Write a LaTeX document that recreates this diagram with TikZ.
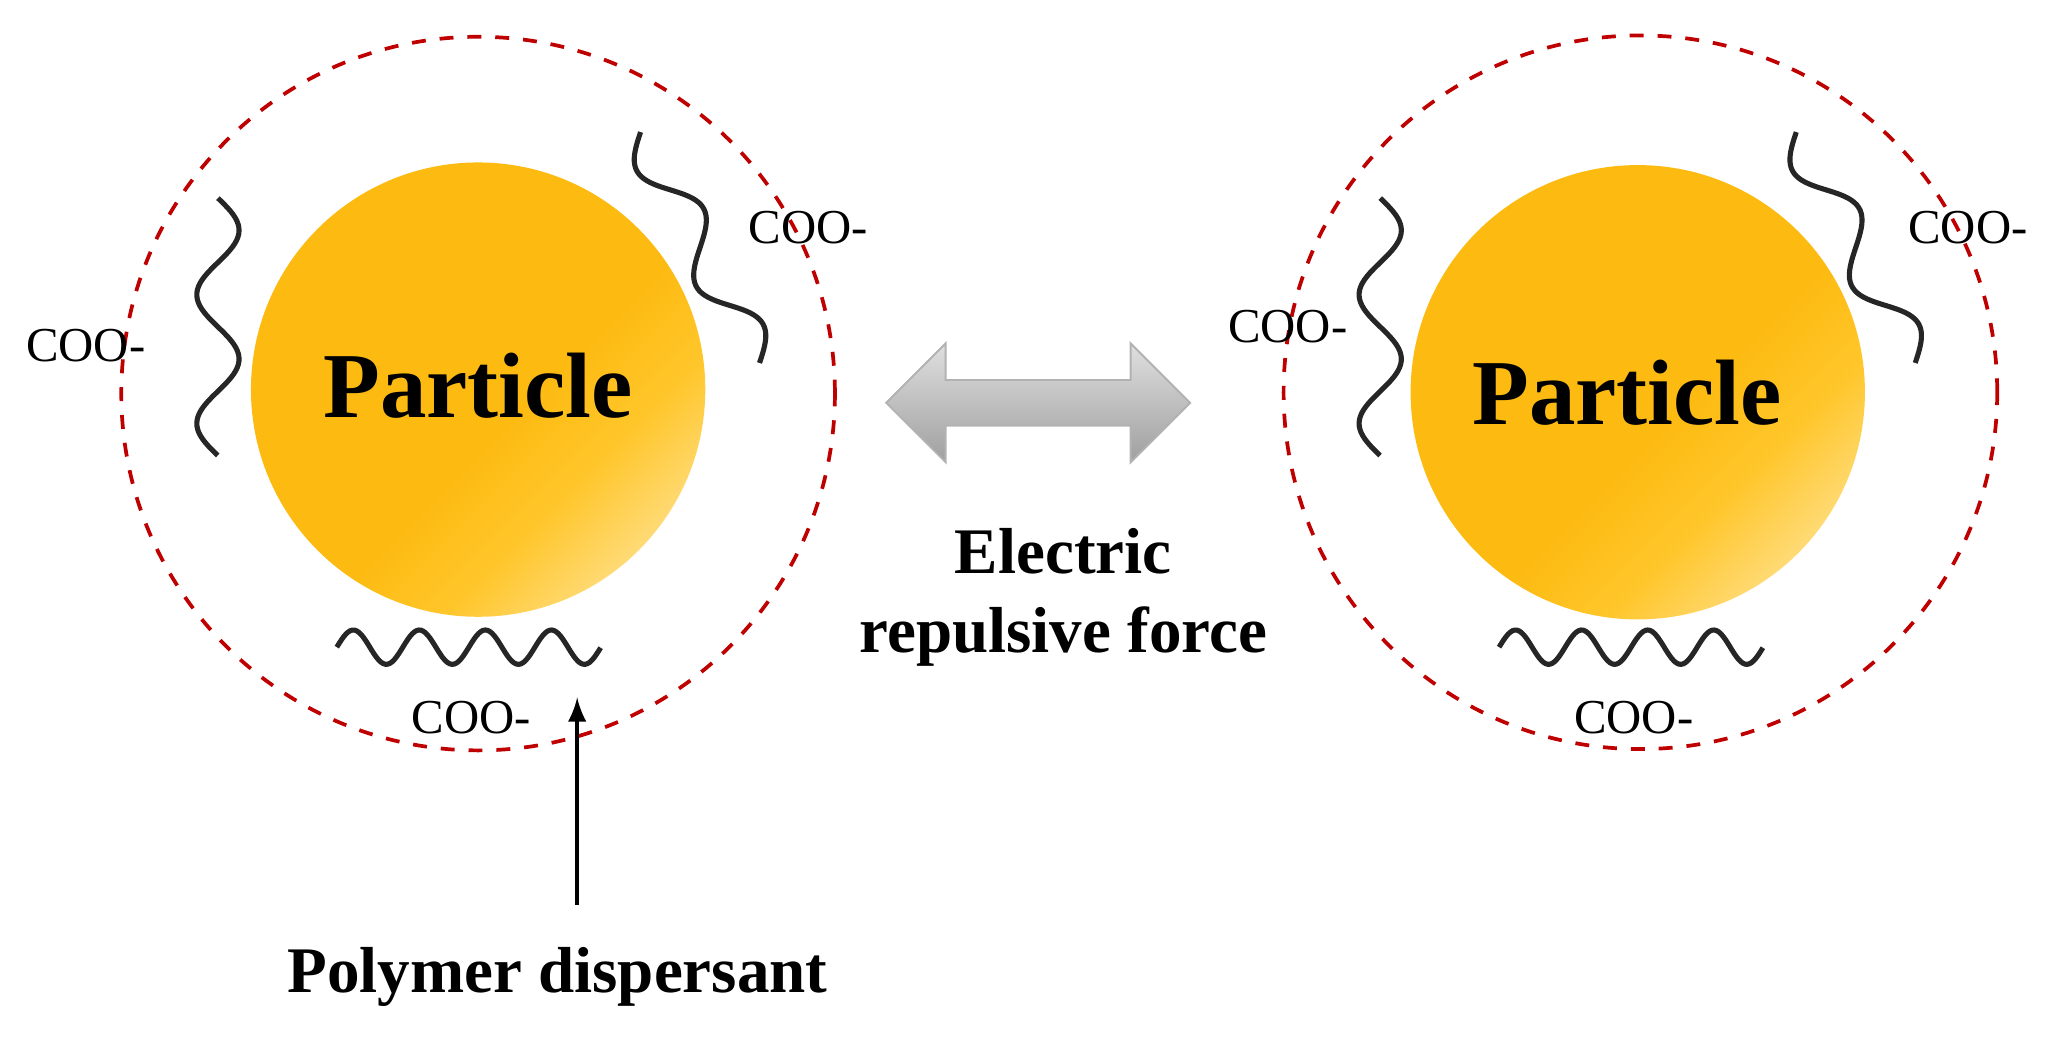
\documentclass[tikz,border=0pt]{standalone}
\usepackage{fontspec}
\setmainfont{Liberation Serif}
\usetikzlibrary{shapes.arrows}
\definecolor{gold}{HTML}{FDBB12}
\definecolor{gold2}{HTML}{FFC62A}
\pgfdeclarehorizontalshading{ball}{100bp}{color(0bp)=(gold); color(55bp)=(gold); color(65bp)=(gold2); color(82bp)=(gold2!40!white); color(100bp)=(white)}
\begin{document}
\begin{tikzpicture}[x=0.01cm,y=-0.01cm,
  wave/.style={line width=1.1pt,black!85,smooth},
  coo/.style={font=\fontsize{10.5}{11}\selectfont},
  halo/.style={draw=red!75!black,dashed,line width=0.8pt},
  lab/.style={font=\bfseries\fontsize{14}{17}\selectfont,align=center}]
\useasboundingbox (0,0) rectangle (1568,786);
% left
\node[halo,circle,minimum size=5.4cm] (h1) at (362,298) {};
\shade[shading=ball,shading angle=-45] (362,295) circle (172);
\node[font=\bfseries\fontsize{20}{24}\selectfont] (p1) at (362,292) {Particle};
\draw[wave] plot[domain=0:1,samples=80] ({165+16*sin(\x*720)},{150+195*\x});
\draw[wave] plot[domain=0:1,samples=80] ({485+90*\x-16*sin(\x*720)*0.888},{100+175*\x+16*sin(\x*720)*0.457});
\draw[wave] plot[domain=0:1,samples=120] ({255+200*\x},{490-13*sin(\x*1440)});
\node[coo] (c1) at (65,262) {COO-};
\node[coo] (c2) at (612,172) {COO-};
\node[coo] (c3) at (357,543) {COO-};
\node[lab] (pd) at (422,740) {Polymer dispersant};
\coordinate (at) at (437,528);
\draw[-latex,line width=0.8pt] (437,685) -- (at);
% right
\node[halo,circle,minimum size=5.4cm] (h2) at (1242,297) {};
\shade[shading=ball,shading angle=-45] (1240,297) circle (172);
\node[font=\bfseries\fontsize{20}{24}\selectfont] (p2) at (1232,297) {Particle};
\draw[wave] plot[domain=0:1,samples=80] ({1045+16*sin(\x*720)},{150+195*\x});
\draw[wave] plot[domain=0:1,samples=80] ({1360+90*\x-16*sin(\x*720)*0.888},{100+175*\x+16*sin(\x*720)*0.457});
\draw[wave] plot[domain=0:1,samples=120] ({1135+200*\x},{490-13*sin(\x*1440)});
\node[coo] (c4) at (975,247) {COO-};
\node[coo] (c5) at (1490,172) {COO-};
\node[coo] (c6) at (1237,543) {COO-};
% arrow
\node[double arrow,double arrow head extend=0.2cm,minimum height=2.3cm,minimum width=0.9cm,
  top color=gray!25,bottom color=gray!75,draw=gray!60] (da) at (786,305) {};
\node[lab] (ef) at (805,452) {Electric\\repulsive force};
\end{tikzpicture}
\end{document}
